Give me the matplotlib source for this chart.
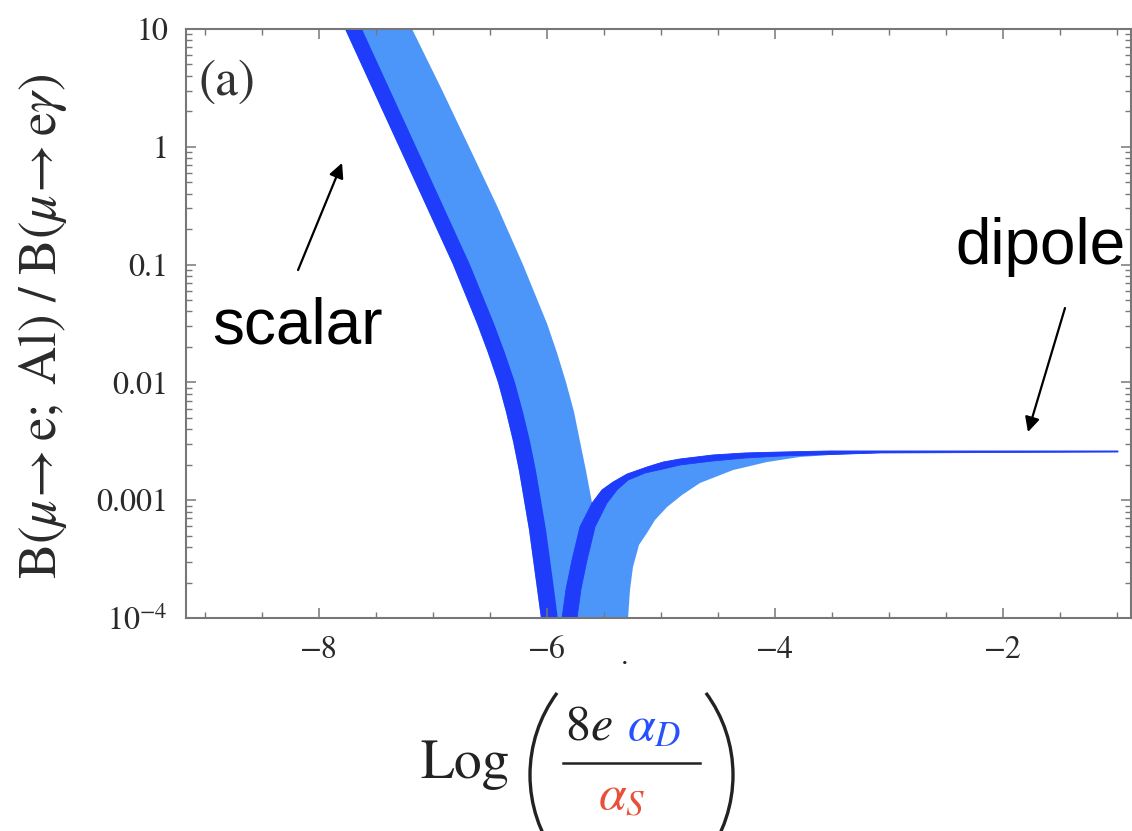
import numpy as np
import matplotlib
matplotlib.use("Agg")
import matplotlib.pyplot as plt
from matplotlib.patches import Arc
from matplotlib.ticker import FixedLocator, FixedFormatter, MultipleLocator

plt.rcParams["font.family"] = "STIXGeneral"
plt.rcParams["mathtext.fontset"] = "stix"

# --- band edges (x = log(8e aD/aS), y = ratio) ---
scal_y = [10, 3.16, 1.0, 0.316, 0.1, 0.0316, 0.0178, 0.01, 0.00562, 0.00316,
          0.00178, 0.001, 5.62e-4, 3.16e-4, 1.78e-4, 1e-4]
# scalar branch, dark band left edge (also outer edge of the light band)
scal_dark_lo_x = [-7.772, -7.535, -7.298, -7.061, -6.825, -6.614, -6.518, -6.430, -6.360, -6.298,
                  -6.246, -6.202, -6.158, -6.123, -6.088, -6.053]
# scalar branch, dark band right edge
scal_dark_hi_x = [-7.623, -7.386, -7.149, -6.912, -6.676, -6.465, -6.369, -6.281, -6.211, -6.149,
                  -6.097, -6.053, -6.009, -5.974, -5.939, -5.906]
# scalar branch, light band right edge (ends at the cusp)
scal_light_x = [-7.184, -6.930, -6.684, -6.439, -6.211, -6.000, -5.912, -5.833, -5.763, -5.711,
                -5.658, -5.605]
scal_light_y = [10, 3.16, 1.0, 0.316, 0.1, 0.0316, 0.0178, 0.01, 0.00562, 0.00316,
                0.00178, 9.46e-4]

# dipole branch, dark band upper edge
dip_dark_up_x = [-5.868, -5.833, -5.781, -5.711, -5.605, -5.518, -5.421, -5.298, -5.123, -4.982,
                 -4.833, -4.544, -4.263, -3.956, -3.518, -0.991]
dip_dark_up_y = [1e-4, 1.76e-4, 3.10e-4, 5.93e-4, 9.46e-4, 1.222e-3, 1.426e-3, 1.667e-3, 1.914e-3, 2.109e-3,
                 2.239e-3, 2.421e-3, 2.518e-3, 2.564e-3, 2.618e-3, 2.618e-3]
# dipole branch, dark band lower edge
dip_dark_lo_x = [-5.737, -5.702, -5.649, -5.579, -5.474, -5.386, -5.289, -5.140, -4.982, -4.833,
                 -4.544, -4.263, -3.956, -3.079, -0.991]
dip_dark_lo_y = [1e-4, 1.76e-4, 3.10e-4, 5.93e-4, 9.46e-4, 1.222e-3, 1.483e-3, 1.702e-3, 1.841e-3, 1.991e-3,
                 2.153e-3, 2.282e-3, 2.371e-3, 2.518e-3, 2.564e-3]
# dipole branch, light band lower edge
dip_light_x = [-5.289, -5.272, -5.246, -5.193, -5.123, -5.053, -4.947, -4.816, -4.658, -4.368,
               -4.070, -3.781, -3.518, -3.079, -2.026, -0.991]
dip_light_y = [1e-4, 1.73e-4, 2.71e-4, 4.17e-4, 5.27e-4, 6.79e-4, 8.75e-4, 1.107e-3, 1.400e-3, 1.803e-3,
               2.109e-3, 2.328e-3, 2.421e-3, 2.518e-3, 2.564e-3, 2.564e-3]

y_ticks = [1e-4, 1e-3, 1e-2, 1e-1, 1, 10]
y_tick_labels = ["$10^{-4}$", "0.001", "0.01", "0.1", "1", "10"]
x_ticks = [-8, -6, -4, -2]

LIGHT = "#4c96fa"
DARK = "#1e3cfa"
GREY = "#777777"

W, H = 1132, 831
fig = plt.figure(figsize=(W / 100, H / 100), dpi=100)
ax = fig.add_axes([186 / W, 1 - 618 / H, (1131 - 186) / W, (618 - 29) / H])
ax.set_yscale("log")
ax.set_xlim(-9.167, -0.877)
ax.set_ylim(1e-4, 10)

# light band: outer outline of both branches
cusp_x = scal_light_x[-1]
up_x = np.array(dip_dark_up_x)
up_y = np.array(dip_dark_up_y)
keep = up_x >= cusp_x
lx = np.concatenate([scal_dark_lo_x, dip_light_x, up_x[keep][::-1], scal_light_x[::-1]])
ly = np.concatenate([scal_y, dip_light_y, up_y[keep][::-1], scal_light_y[::-1]])
ax.fill(lx, ly, color=LIGHT, lw=0)

# dark bands
ax.fill(np.concatenate([scal_dark_lo_x, scal_dark_hi_x[::-1]]),
        np.concatenate([scal_y, scal_y[::-1]]), color=DARK, lw=0)
ax.fill(np.concatenate([dip_dark_up_x, dip_dark_lo_x[::-1]]),
        np.concatenate([dip_dark_up_y, dip_dark_lo_y[::-1]]), color=DARK, lw=0.6, ec=DARK)

# axes styling
ax.yaxis.set_major_locator(FixedLocator(y_ticks))
ax.yaxis.set_major_formatter(FixedFormatter(y_tick_labels))
ax.xaxis.set_major_locator(FixedLocator(x_ticks))
ax.xaxis.set_minor_locator(MultipleLocator(0.5))
for s in ax.spines.values():
    s.set_color(GREY)
    s.set_linewidth(1.5)
ax.tick_params(which="both", direction="in", top=True, right=True, color=GREY,
               labelsize=23, labelcolor="#2a2a2a", pad=13)
ax.tick_params(which="major", length=7, width=1.1)
ax.tick_params(which="minor", length=4.5, width=1.0)

# annotations
ax.text(0.013, 0.888, "(a)", transform=ax.transAxes, fontsize=37, color="#333333",
        ha="left", va="baseline")
ax.text(-8.939, 0.0216, "scalar", fontsize=46, family="Liberation Sans",
        ha="left", va="baseline")
ax.text(-2.421, 0.101, "dipole", fontsize=46, family="Liberation Sans",
        ha="left", va="baseline")
arrow = dict(arrowstyle="-|>", mutation_scale=22, lw=1.6, color="k", shrinkA=0, shrinkB=0)
ax.annotate("", xy=(-7.798, 0.729), xytext=(-8.184, 0.0899), arrowprops=arrow)
ax.annotate("", xy=(-1.781, 0.00379), xytext=(-1.456, 0.0428), arrowprops=arrow)

# y label
fig.text(43 / W, 1 - 326 / H,
         r"$\mathrm{B}(\mu\!\rightarrow \mathrm{e};\;\mathrm{Al})\ /\ \mathrm{B}(\mu\!\rightarrow \mathrm{e}\gamma)$",
         rotation=90, ha="center", va="center", fontsize=38, color="#2a2a2a")


# x label: Log( 8e aD / aS ) built from pieces so the alphas can be coloured
def fx(px):
    return px / W


def fy(py):
    return 1 - py / H


fig.text(fx(420), fy(778), "Log", fontsize=40, ha="left", va="baseline", color="#222222")
fig.text(fx(565), fy(740), r"$8e$", fontsize=36, ha="left", va="baseline", color="#222222")
fig.text(fx(627), fy(740), r"$\alpha_D$", fontsize=36, ha="left", va="baseline", color="#2850ff")
fig.text(fx(598), fy(809), r"$\alpha_S$", fontsize=36, ha="left", va="baseline", color="#e8503a")
fig.add_artist(plt.Line2D([fx(563), fx(700)], [fy(763), fy(763)], transform=fig.transFigure,
                          color="#222222", lw=1.8))
fig.add_artist(Arc((6.68, (H - 775) / 100), 2.76, 2.76, theta1=143.5, theta2=216.5,
                   transform=fig.dpi_scale_trans, color="#222222", lw=2.4))
fig.add_artist(Arc((5.95, (H - 775) / 100), 2.76, 2.76, theta1=-36.5, theta2=36.5,
                   transform=fig.dpi_scale_trans, color="#222222", lw=2.4))
# small stray mark under the axis, as in the original
fig.text(fx(621), fy(664), ".", fontsize=22, color="#222222", ha="left", va="baseline")

fig.savefig("out.png", dpi=100)
